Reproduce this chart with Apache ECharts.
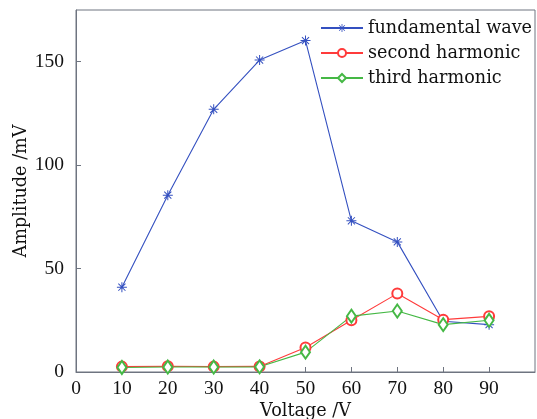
<!DOCTYPE html>
<html>
<head>
<meta charset="utf-8">
<script src="https://cdn.jsdelivr.net/npm/echarts@6/dist/echarts.min.js"></script>
<style>
  html, body { margin: 0; padding: 0; background: #fff; }
  #chart { width: 537px; height: 419px; }
</style>
</head>
<body>
<div id="chart"></div>
<script>
const voltages = [10, 20, 30, 40, 50, 60, 70, 80, 90];
const fundamentalWave = [41, 85.5, 127, 150.8, 160.2, 73.1, 62.9, 24.5, 22.9];
const secondHarmonic = [2.6, 2.8, 2.6, 2.7, 11.8, 25, 37.9, 25.3, 26.9];
const thirdHarmonic = [2.2, 2.4, 2.4, 2.5, 9.6, 27, 29.5, 22.9, 25];
const seriesNames = ['fundamental wave', 'second harmonic', 'third harmonic'];
const xTicks = [0, 10, 20, 30, 40, 50, 60, 70, 80, 90];
const yTicks = [0, 50, 100, 150];

const asterisk = 'path://M9 0L11 0L11 20L9 20Z M0 9L20 9L20 11L0 11Z ' +
  'M2.2 3.6L3.6 2.2L17.8 16.4L16.4 17.8Z M16.4 2.2L17.8 3.6L3.6 17.8L2.2 16.4Z';

function pairs(vals) { return voltages.map((v, i) => [v, vals[i]]); }

const nameFont = { fontFamily: 'DejaVu Serif', fontSize: 17.6, color: '#111111' };
const tickFont = { fontFamily: 'Liberation Serif', fontSize: 19.5, color: '#111111' };
const axisColor = '#6e7480';

const chart = echarts.init(document.getElementById('chart'), null, { renderer: 'canvas' });
chart.setOption({
  animation: false,
  backgroundColor: '#ffffff',
  grid: {
    left: 76, right: 2, top: 10, bottom: 47,
    outerBoundsMode: 'none', containLabel: false,
    show: true, borderColor: axisColor, borderWidth: 1, backgroundColor: 'transparent'
  },
  legend: {
    orient: 'vertical',
    left: 315, top: 13,
    itemWidth: 42, itemHeight: 10, itemGap: 5,
    textStyle: Object.assign({}, nameFont, { lineHeight: 20, padding: [0, 0, 0, 0] }),
    data: seriesNames
  },
  xAxis: {
    type: 'value', min: 0, max: 100, interval: 10,
    name: 'Voltage /V', nameLocation: 'middle', nameGap: 30, nameMoveOverlap: false,
    nameTextStyle: nameFont,
    axisLine: { show: true, onZero: false, lineStyle: { color: axisColor, width: 1 } },
    axisTick: { show: true, inside: true, length: 5, lineStyle: { color: axisColor } },
    axisLabel: Object.assign({}, tickFont, {
      margin: 7, showMaxLabel: false,
      formatter: v => (xTicks.indexOf(v) >= 0 ? String(v) : '')
    }),
    splitLine: { show: false }
  },
  yAxis: {
    type: 'value', min: 0, max: 175, interval: 50,
    name: 'Amplitude /mV', nameLocation: 'middle', nameGap: 46, nameRotate: 90,
    nameMoveOverlap: false,
    nameTextStyle: nameFont,
    axisLine: { show: true, onZero: false, lineStyle: { color: axisColor, width: 1 } },
    axisTick: { show: true, inside: true, length: 5, lineStyle: { color: axisColor } },
    axisLabel: Object.assign({}, tickFont, {
      margin: 12, showMaxLabel: false,
      formatter: v => (yTicks.indexOf(v) >= 0 ? String(v) : '')
    }),
    splitLine: { show: false }
  },
  series: [
    {
      name: seriesNames[0], type: 'line', data: pairs(fundamentalWave),
      symbol: asterisk, symbolSize: 10,
      lineStyle: { color: '#3450c0', width: 1.1 },
      itemStyle: { color: '#3450c0' }
    },
    {
      name: seriesNames[1], type: 'line', data: pairs(secondHarmonic),
      symbol: 'emptyCircle', symbolSize: 10,
      lineStyle: { color: '#ff3b3b', width: 1.1 },
      itemStyle: { color: '#ff3b3b', borderWidth: 1.1 }
    },
    {
      name: seriesNames[2], type: 'line', data: pairs(thirdHarmonic),
      symbol: 'emptyDiamond', symbolSize: [9, 13],
      lineStyle: { color: '#45b845', width: 1.1 },
      itemStyle: { color: '#45b845', borderWidth: 1.1 }
    }
  ]
});
</script>
</body>
</html>
